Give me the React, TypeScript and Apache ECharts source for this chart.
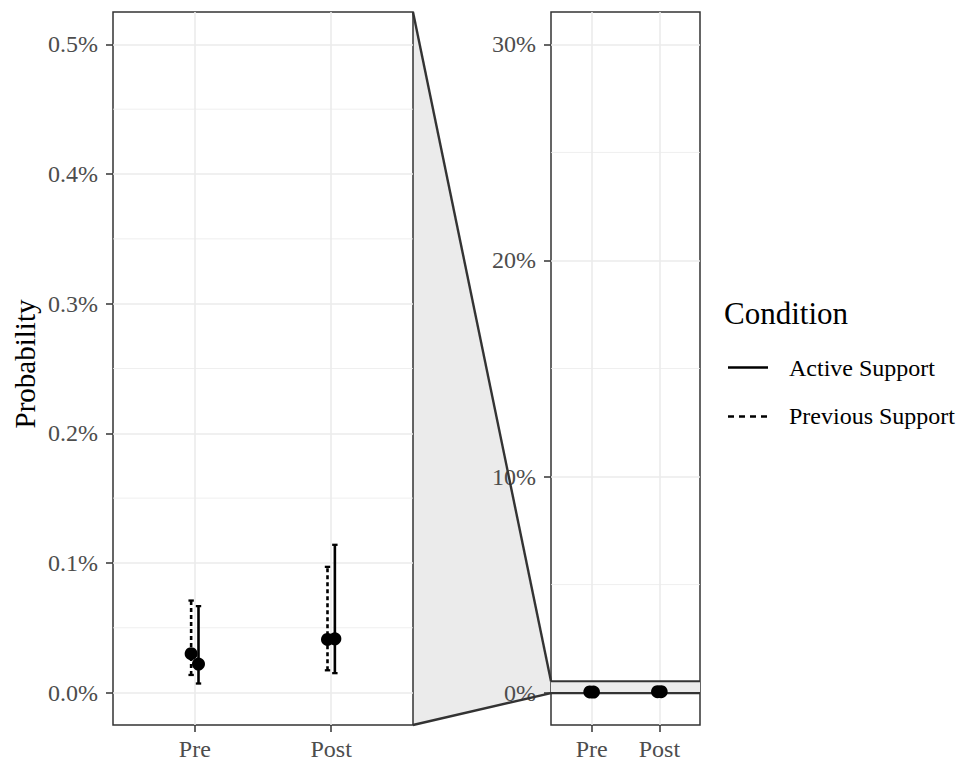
import React, { useEffect, useRef } from "react";
import * as echarts from "echarts";

// ---- data (values in percent) ----
const categories = ["Pre", "Post"];
const conditions = ["Active Support", "Previous Support"];
const activeMean = [0.022, 0.0415];
const activeLow = [0.007, 0.015];
const activeHigh = [0.0667, 0.114];
const prevMean = [0.03, 0.041];
const prevLow = [0.0136, 0.0172];
const prevHigh = [0.071, 0.097];
const leftTicks = [0, 0.1, 0.2, 0.3, 0.4, 0.5];
const leftMinor = [0.05, 0.15, 0.25, 0.35, 0.45];
const rightTicks = [0, 10, 20, 30];
const rightMinor = [5, 15, 25];
const zoomLow = -0.025;
const zoomHigh = 0.525;
const fullLow = -1.5;
const fullHigh = 31.5;

const xMin = 0.4;
const xMax = 2.6;
const dodge = 0.027;
const catPos = categories.map((_, i) => i + 1);

const FONT = "Liberation Serif";
const GRID_COLOR = "#ebebeb";
const DARK = "#333333";

function errData(low: number[], high: number[], off: number) {
  return categories.map((_, i) => [i + 1 + off, low[i], high[i]]);
}
function ptData(mean: number[], off: number) {
  return categories.map((_, i) => [i + 1 + off, mean[i]]);
}

function errorSeries(name: string, low: number[], high: number[], off: number, dashed: boolean, gi: number) {
  return {
    type: "custom",
    name,
    xAxisIndex: gi,
    yAxisIndex: gi,
    z: 3,
    silent: true,
    data: errData(low, high, off),
    renderItem: (params: any, api: any) => {
      const x = api.value(0);
      const lo = api.coord([x, api.value(1)]);
      const hi = api.coord([x, api.value(2)]);
      const cap = 2.7;
      const st = { stroke: "#000", lineWidth: 2.6, lineDash: dashed ? [4, 3] : undefined };
      return {
        type: "group",
        children: [
          { type: "line", shape: { x1: lo[0], y1: lo[1], x2: hi[0], y2: hi[1] }, style: st },
          { type: "line", shape: { x1: hi[0] - cap, y1: hi[1], x2: hi[0] + cap, y2: hi[1] }, style: { stroke: "#000", lineWidth: 2.3 } },
          { type: "line", shape: { x1: lo[0] - cap, y1: lo[1], x2: lo[0] + cap, y2: lo[1] }, style: { stroke: "#000", lineWidth: 2.3 } },
        ],
      };
    },
  };
}

function pointSeries(name: string, mean: number[], off: number, gi: number) {
  return {
    type: "scatter",
    name,
    xAxisIndex: gi,
    yAxisIndex: gi,
    z: 4,
    silent: true,
    symbol: "circle",
    symbolSize: 13,
    itemStyle: { color: "#000", opacity: 1 },
    data: ptData(mean, off),
  };
}

function minorSeries(vals: number[], gi: number) {
  return {
    type: "custom",
    xAxisIndex: gi,
    yAxisIndex: gi,
    z: 1,
    silent: true,
    data: vals.map((v) => [v]),
    renderItem: (params: any, api: any) => {
      const a = api.coord([xMin, api.value(0)]);
      const b = api.coord([xMax, api.value(0)]);
      return {
        type: "line",
        shape: { x1: a[0], y1: a[1], x2: b[0], y2: b[1] },
        style: { stroke: GRID_COLOR, lineWidth: 0.8 },
      };
    },
  };
}

const labelStyle = { color: "#4d4d4d", fontSize: 24, fontFamily: FONT };

function xAxis(gi: number) {
  return {
    gridIndex: gi,
    type: "value",
    min: xMin,
    max: xMax,
    axisLine: { show: false, onZero: false },
    axisTick: { show: true, customValues: catPos, length: 7, lineStyle: { color: DARK, width: 1.5 } },
    axisLabel: {
      customValues: catPos,
      formatter: (v: number) => categories[Math.round(v) - 1] || "",
      margin: 12,
      ...labelStyle,
    },
    splitLine: { show: true, lineStyle: { color: GRID_COLOR, width: 1.6 } },
  };
}

export default function App() {
  const ref = useRef<HTMLDivElement>(null);
  useEffect(() => {
    if (!ref.current) return;
    const chart = echarts.init(ref.current, null, { renderer: "svg" });
    const option: any = {
      animation: false,
      backgroundColor: "#ffffff",
      grid: [
        { left: 113, top: 12, width: 300, height: 714, show: true, borderColor: DARK, borderWidth: 1.5, backgroundColor: "transparent" },
        { left: 551, top: 12, width: 149, height: 714, show: true, borderColor: DARK, borderWidth: 1.5, backgroundColor: "transparent" },
      ],
      xAxis: [xAxis(0), xAxis(1)],
      yAxis: [
        {
          gridIndex: 0,
          type: "value",
          min: zoomLow,
          max: zoomHigh,
          axisLine: { show: false, onZero: false },
          axisTick: { show: true, customValues: leftTicks, length: 7, lineStyle: { color: DARK, width: 1.5 } },
          axisLabel: { customValues: leftTicks, formatter: (v: number) => v.toFixed(1) + "%", margin: 15, ...labelStyle },
          splitLine: { show: true, lineStyle: { color: GRID_COLOR, width: 1.6 } },
        },
        {
          gridIndex: 1,
          type: "value",
          min: fullLow,
          max: fullHigh,
          axisLine: { show: false, onZero: false },
          axisTick: { show: true, customValues: rightTicks, length: 7, lineStyle: { color: DARK, width: 1.5 } },
          axisLabel: { customValues: rightTicks, formatter: (v: number) => Math.round(v) + "%", margin: 15, ...labelStyle },
          splitLine: { show: true, lineStyle: { color: GRID_COLOR, width: 1.6 } },
        },
      ],
      series: [
        minorSeries(leftMinor, 0),
        minorSeries(rightMinor, 1),
        {
          type: "custom",
          xAxisIndex: 1,
          yAxisIndex: 1,
          z: 2,
          silent: true,
          data: [[zoomLow, zoomHigh]],
          renderItem: (params: any, api: any) => {
            const tl = api.coord([xMin, api.value(1)]);
            const br = api.coord([xMax, api.value(0)]);
            return {
              type: "group",
              children: [
                { type: "rect", shape: { x: tl[0], y: tl[1], width: br[0] - tl[0], height: br[1] - tl[1] }, style: { fill: "#ebebeb" } },
                { type: "line", shape: { x1: tl[0], y1: tl[1], x2: br[0], y2: tl[1] }, style: { stroke: DARK, lineWidth: 2.2 } },
                { type: "line", shape: { x1: tl[0], y1: br[1], x2: br[0], y2: br[1] }, style: { stroke: DARK, lineWidth: 2.2 } },
              ],
            };
          },
        },
        errorSeries(conditions[1], prevLow, prevHigh, -dodge, true, 0),
        errorSeries(conditions[0], activeLow, activeHigh, dodge, false, 0),
        pointSeries(conditions[1], prevMean, -dodge, 0),
        pointSeries(conditions[0], activeMean, dodge, 0),
        errorSeries(conditions[1], prevLow, prevHigh, -dodge, true, 1),
        errorSeries(conditions[0], activeLow, activeHigh, dodge, false, 1),
        pointSeries(conditions[1], prevMean, -dodge, 1),
        pointSeries(conditions[0], activeMean, dodge, 1),
      ],
      graphic: [
        { id: "yTitle", type: "text", x: 25, y: 364, rotation: Math.PI / 2, style: { text: "Probability", fontSize: 29, fontFamily: FONT, fill: "#000", textAlign: "center", textVerticalAlign: "middle" } },
        { id: "legTitle", type: "text", x: 724, y: 313, style: { text: "Condition", fontSize: 31, fontFamily: FONT, fill: "#000", textVerticalAlign: "middle" } },
        { id: "legL1", type: "line", shape: { x1: 728, y1: 367.5, x2: 768, y2: 367.5 }, style: { stroke: "#000", lineWidth: 2.4 } },
        { id: "legT1", type: "text", x: 789, y: 368, style: { text: conditions[0], fontSize: 24, fontFamily: FONT, fill: "#000", textVerticalAlign: "middle" } },
        { id: "legL2", type: "line", shape: { x1: 728, y1: 416.5, x2: 768, y2: 416.5 }, style: { stroke: "#000", lineWidth: 2.4, lineDash: [6, 5] } },
        { id: "legT2", type: "text", x: 789, y: 416, style: { text: conditions[1], fontSize: 24, fontFamily: FONT, fill: "#000", textVerticalAlign: "middle" } },
      ],
    };
    chart.setOption(option);

    const A = chart.convertToPixel({ gridIndex: 0 } as any, [xMax, zoomHigh]) as number[];
    const B = chart.convertToPixel({ gridIndex: 0 } as any, [xMax, zoomLow]) as number[];
    const C = chart.convertToPixel({ gridIndex: 1 } as any, [xMin, zoomHigh]) as number[];
    const D = chart.convertToPixel({ gridIndex: 1 } as any, [xMin, zoomLow]) as number[];
    chart.setOption({
      graphic: [
        { id: "trapFill", type: "polygon", z: -1, silent: true, shape: { points: [A, C, D, B] }, style: { fill: "#ebebeb" } },
        { id: "trapTop", type: "line", z: 100, silent: true, shape: { x1: A[0], y1: A[1], x2: C[0], y2: C[1] }, style: { stroke: DARK, lineWidth: 2.4 } },
        { id: "trapBot", type: "line", z: 100, silent: true, shape: { x1: B[0], y1: B[1], x2: D[0], y2: D[1] }, style: { stroke: DARK, lineWidth: 2.4 } },
      ],
    });

    return () => chart.dispose();
  }, []);
  return <div ref={ref} style={{ position: "fixed", left: 0, top: 0, width: 960, height: 761 }} />;
}
